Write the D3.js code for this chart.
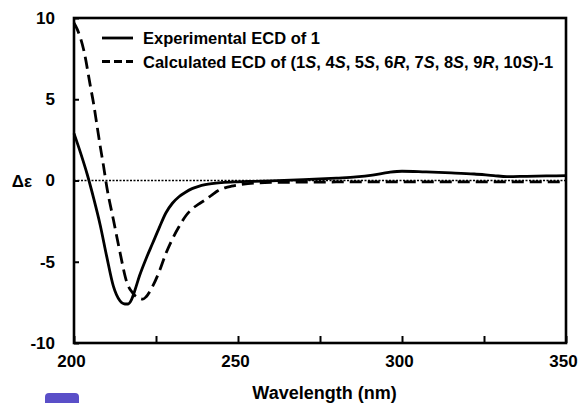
<!DOCTYPE html>
<html>
<head>
<meta charset="utf-8">
<script src="https://cdn.jsdelivr.net/npm/d3@7"></script>
<style>
  body { margin: 0; background: #fff; }
  text { font-family: "Liberation Sans", Arial, sans-serif; font-weight: bold; fill: #000; }
</style>
</head>
<body>
<script>
// gemeten ECD (doorgetrokken lijn)
var expWave = [200, 202, 204, 206, 208, 210, 212, 214, 215.5, 216.5, 217.5, 218.5, 220, 222, 224, 226, 228, 230, 232, 234, 236, 238, 240, 245, 250, 255, 260, 270, 280, 286, 291, 296, 300, 307, 315, 322, 328, 332, 338, 344, 350];
var expVal  = [2.9, 1.7, 0.4, -1.1, -2.75, -4.7, -6.5, -7.4, -7.6, -7.6, -7.35, -6.8, -5.85, -4.8, -3.85, -2.9, -2.0, -1.4, -1.0, -0.72, -0.5, -0.36, -0.26, -0.13, -0.08, -0.05, -0.02, 0.05, 0.15, 0.22, 0.33, 0.5, 0.57, 0.53, 0.47, 0.4, 0.3, 0.24, 0.26, 0.28, 0.3];

// berekende ECD (gestreepte lijn)
var calcWave = [200, 201, 203, 205, 206, 207, 208, 209, 210, 212, 214, 216, 218, 220, 221, 222, 224, 226, 228, 230, 232, 234, 236, 238, 240, 242, 244, 246, 248, 250, 255, 260, 280, 300, 320, 350];
var calcVal  = [9.7, 9.3, 8.0, 5.8, 4.7, 3.4, 2.1, 0.9, -0.4, -2.4, -4.4, -6.2, -6.95, -7.25, -7.3, -7.15, -6.5, -5.6, -4.5, -3.6, -2.85, -2.2, -1.75, -1.45, -1.2, -0.9, -0.62, -0.45, -0.35, -0.28, -0.16, -0.12, -0.09, -0.08, -0.08, -0.08];

var xTicks = [200, 250, 300, 350];
var xMinor = [225, 275, 325];
var yTicks = [-10, -5, 0, 5, 10];

var legendLabels = ["Experimental ECD of 1", "Calculated ECD of (1S, 4S, 5S, 6R, 7S, 8S, 9R, 10S)-1"];

var margin = { top: 18, right: 16, bottom: 60, left: 74 },
    width = 582 - margin.left - margin.right,
    height = 403 - margin.top - margin.bottom;

var svg = d3.select("body").append("svg")
    .attr("width", 582)
    .attr("height", 403);

var g = svg.append("g")
    .attr("transform", "translate(" + margin.left + "," + margin.top + ")");

var x = d3.scaleLinear().domain([200, 350]).range([0, width]);
var y = d3.scaleLinear().domain([-10, 10]).range([height, 0]);

// nul-lijn (gestippeld)
g.append("line")
    .attr("x1", 0).attr("x2", width)
    .attr("y1", y(0)).attr("y2", y(0))
    .attr("stroke", "#000")
    .attr("stroke-width", 1.5)
    .attr("stroke-dasharray", "2,1.5");

var line = d3.line()
    .x(function (d) { return x(d[0]); })
    .y(function (d) { return y(d[1]); })
    .curve(d3.curveMonotoneX);

g.append("path")
    .datum(d3.zip(calcWave, calcVal))
    .attr("fill", "none")
    .attr("stroke", "#000")
    .attr("stroke-width", 2.8)
    .attr("stroke-dasharray", "12,6")
    .attr("d", line);

g.append("path")
    .datum(d3.zip(expWave, expVal))
    .attr("fill", "none")
    .attr("stroke", "#000")
    .attr("stroke-width", 2.8)
    .attr("d", line);

// kader
g.append("rect")
    .attr("width", width)
    .attr("height", height)
    .attr("fill", "none")
    .attr("stroke", "#000")
    .attr("stroke-width", 2.6);

// assen, gewone min-teken als in het origineel
var fmt = function (d) { return String(d); };

var xAxis = g.append("g")
    .attr("transform", "translate(0," + height + ")")
    .call(d3.axisBottom(x).tickValues(xTicks.concat(xMinor)).tickSizeInner(-7).tickSizeOuter(0).tickPadding(12)
        .tickFormat(function (d) { return xTicks.indexOf(d) >= 0 ? fmt(d) : ""; }));
xAxis.select(".domain").remove();
xAxis.selectAll("line").attr("stroke-width", 2);
xAxis.selectAll("text").attr("font-size", 17).attr("x", -3).attr("font-family", null);

var yAxis = g.append("g")
    .call(d3.axisLeft(y).tickValues(yTicks).tickSizeInner(-5).tickSizeOuter(0).tickPadding(19).tickFormat(fmt));
yAxis.select(".domain").remove();
yAxis.selectAll("line").attr("stroke-width", 2);
yAxis.selectAll("text").attr("font-size", 17).attr("font-family", null);

// as-titels
g.append("text")
    .attr("x", 324.5 - margin.left)
    .attr("y", height + 56)
    .attr("text-anchor", "middle")
    .attr("font-size", 18)
    .text("Wavelength (nm)");

g.append("text")
    .attr("x", -42)
    .attr("y", y(0) + 6)
    .attr("text-anchor", "end")
    .attr("font-size", 17)
    .text("Δε");

// legenda
var legenda = g.append("g")
    .selectAll("g")
    .data(legendLabels)
    .enter().append("g")
    .attr("transform", function (d, i) { return "translate(0," + (20 + i * 23.5) + ")"; });

legenda.append("line")
    .attr("x1", 28).attr("x2", 59)
    .attr("stroke", "#000")
    .attr("stroke-width", 2.8)
    .attr("stroke-dasharray", function (d, i) { return i ? "8,4" : null; });

legenda.append("text")
    .attr("x", 69)
    .attr("y", 6)
    .attr("font-size", 16.5)
    .each(function (d) {
        // hoofdletters S en R cursief
        var t = d3.select(this);
        var parts = d.split(/(\d+[SR])/);
        parts.forEach(function (p) {
            var m = p.match(/^(\d+)([SR])$/);
            if (m) {
                t.append("tspan").text(m[1]);
                t.append("tspan").attr("font-style", "italic").text(m[2]);
            } else if (p) {
                t.append("tspan").text(p);
            }
        });
    });

// blauw label linksonder
svg.append("rect")
    .attr("x", 45).attr("y", 393)
    .attr("width", 34).attr("height", 16)
    .attr("rx", 4)
    .attr("fill", "#5a4fc8");
</script>
</body>
</html>
